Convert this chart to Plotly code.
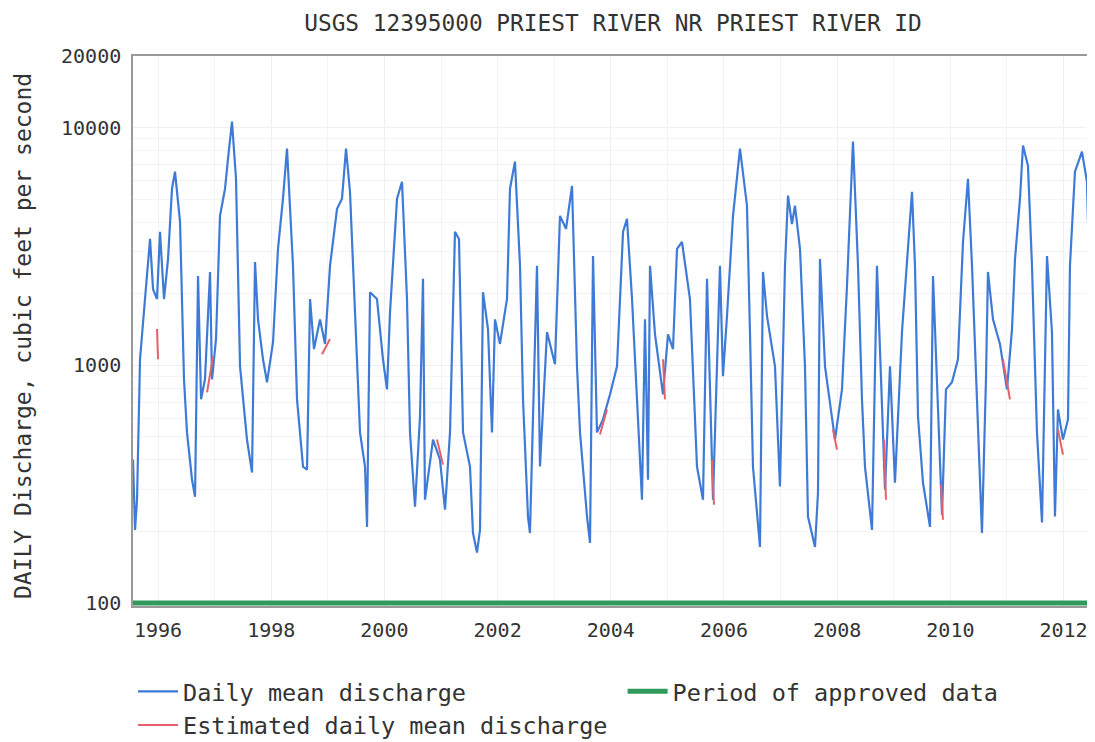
import plotly.graph_objects as go

# decimal year of each read point
t = [1995.558, 1995.594, 1995.629, 1995.682, 1995.770, 1995.859, 1995.912, 1995.982, 1996.035, 1996.106,
     1996.177, 1996.247, 1996.300, 1996.389, 1996.459, 1996.512, 1996.601, 1996.654, 1996.707, 1996.760,
     1996.830, 1996.919, 1996.954, 1997.025, 1997.095, 1997.184, 1997.237, 1997.307, 1997.378, 1997.449,
     1997.572, 1997.661, 1997.714, 1997.767, 1997.855, 1997.926, 1998.032, 1998.120, 1998.208, 1998.279,
     1998.385, 1998.456, 1998.562, 1998.633, 1998.686, 1998.756, 1998.862, 1998.951, 1999.039, 1999.163,
     1999.251, 1999.322, 1999.392, 1999.516, 1999.569, 1999.657, 1999.693, 1999.746, 1999.869, 1999.975,
     2000.046, 2000.099, 2000.223, 2000.311, 2000.399, 2000.452, 2000.541, 2000.629, 2000.682, 2000.717,
     2000.859, 2000.982, 2001.071, 2001.159, 2001.247, 2001.318, 2001.389, 2001.512, 2001.565, 2001.636,
     2001.689, 2001.742, 2001.830, 2001.901, 2001.954, 2002.042, 2002.166, 2002.219, 2002.307, 2002.396,
     2002.449, 2002.537, 2002.572, 2002.696, 2002.749, 2002.873, 2003.014, 2003.102, 2003.209, 2003.315,
     2003.403, 2003.456, 2003.580, 2003.633, 2003.686, 2003.756, 2003.862, 2003.986, 2004.110, 2004.216,
     2004.286, 2004.375, 2004.463, 2004.551, 2004.604, 2004.657, 2004.693, 2004.781, 2004.922, 2005.011,
     2005.099, 2005.170, 2005.258, 2005.399, 2005.523, 2005.629, 2005.700, 2005.806, 2005.929, 2005.982,
     2006.053, 2006.159, 2006.283, 2006.406, 2006.459, 2006.512, 2006.636, 2006.689, 2006.760, 2006.901,
     2006.989, 2007.078, 2007.131, 2007.201, 2007.254, 2007.343, 2007.431, 2007.484, 2007.608, 2007.661,
     2007.696, 2007.785, 2007.961, 2008.085, 2008.173, 2008.279, 2008.368, 2008.438, 2008.491, 2008.615,
     2008.703, 2008.792, 2008.845, 2008.933, 2009.021, 2009.145, 2009.233, 2009.322, 2009.375, 2009.428,
     2009.516, 2009.640, 2009.693, 2009.781, 2009.852, 2009.922, 2010.028, 2010.134, 2010.223, 2010.311,
     2010.382, 2010.470, 2010.558, 2010.629, 2010.664, 2010.753, 2010.876, 2011.000, 2011.089, 2011.142,
     2011.230, 2011.283, 2011.371, 2011.442, 2011.530, 2011.619, 2011.707, 2011.795, 2011.848, 2011.901,
     2011.989, 2012.078, 2012.113, 2012.201, 2012.325, 2012.413, 2012.466, 2012.520]

# daily mean discharge, cubic feet per second
q = [401, 203, 272, 1060, 1900, 3400, 2090, 1900, 3640, 1900,
     2800, 5530, 6520, 4010, 873, 522, 330, 280, 2375, 719,
     873, 2470, 873, 1290, 4250, 5530, 7400, 10600, 6090, 990,
     487, 354, 2720, 1560, 1060, 848, 1250, 3090, 5020, 8150,
     2620, 719, 375, 364, 1900, 1170, 1560, 1230, 2620, 4550,
     5020, 8150, 5370, 990, 522, 375, 209, 2030, 1900, 1060,
     792, 1670, 5020, 5920, 1900, 522, 254, 609, 2310, 272,
     487, 401, 247, 522, 3640, 3400, 522, 375, 197, 163,
     203, 2030, 1420, 522, 1560, 1230, 1900, 5530, 7190, 2620,
     719, 231, 197, 2620, 375, 1380, 1010, 4250, 3750, 5690,
     990, 522, 231, 179, 2880, 522, 592, 754, 990, 3640,
     4130, 1900, 719, 272, 1560, 330, 2620, 1350, 754, 1350,
     1170, 3090, 3300, 1900, 375, 272, 2310, 272, 2620, 899,
     1610, 4250, 8150, 4690, 1380, 375, 172, 2470, 1610, 990,
     309, 2620, 5170, 3930, 4690, 3090, 990, 231, 172, 291,
     2800, 990, 487, 792, 2150, 8730, 2620, 719, 375, 203,
     2620, 652, 300, 990, 321, 1380, 2800, 5370, 2620, 609,
     321, 209, 2375, 719, 235, 792, 848, 1060, 3300, 6090,
     2620, 719, 197, 873, 2470, 1560, 1230, 792, 1420, 2800,
     5020, 8400, 6910, 2620, 522, 218, 2880, 1380, 231, 652,
     487, 592, 2620, 6520, 7920, 5920, 1900, 442]

# estimated periods (start, end) with discharge at start and end
est_t0 = [1995.982, 1996.866, 1998.898, 2000.929, 2003.809, 2004.922, 2005.788, 2007.926, 2008.827, 2009.834, 2010.929, 2011.901]
est_t1 = [1996.000, 1996.972, 1999.039, 2001.035, 2003.933, 2004.957, 2005.823, 2007.996, 2008.862, 2009.869, 2011.053, 2011.989]
est_q0 = [1420, 769, 1112, 487, 511, 1060, 401, 537, 487, 315, 1060, 537]
est_q1 = [1060, 1091, 1290, 382, 652, 719, 259, 442, 272, 224, 719, 421]

approved_t = [1995.558, 2012.520]
approved_q = [100, 100]

year_ticks = [1996, 1998, 2000, 2002, 2004, 2006, 2008, 2010, 2012]
year_labels = [str(y) for y in year_ticks]
q_ticks = [100, 1000, 10000, 20000]
q_labels = ["100", "1000", "10000", "20000"]

FONT = "DejaVu Sans Mono"
TXT = "#333333"

est_x, est_y = [], []
for a, b, c, d in zip(est_t0, est_t1, est_q0, est_q1):
    est_x += [a, b, None]
    est_y += [c, d, None]

fig = go.Figure()
fig.add_trace(go.Scatter(x=t, y=q, mode="lines", name="Daily mean discharge",
                         line=dict(color="#3f7bd6", width=2.2), legend="legend"))
fig.add_trace(go.Scatter(x=est_x, y=est_y, mode="lines", name="Estimated daily mean discharge",
                         line=dict(color="#e8606a", width=2), legend="legend"))
fig.add_trace(go.Scatter(x=approved_t, y=approved_q, mode="lines", name="Period of approved data",
                         line=dict(color="#2f9a5c", width=5), legend="legend2"))

# page body has an 8px default margin, so the figure is sized to fill the window
fig.update_layout(
    width=1087, height=734,
    margin=dict(l=125, r=2, t=48, b=136, autoexpand=False),
    paper_bgcolor="white", plot_bgcolor="white",
    font=dict(family=FONT, color=TXT),
    title=dict(text="USGS 12395000 PRIEST RIVER NR PRIEST RIVER ID",
               x=0.5, xref="paper", xanchor="center", y=0.980, yanchor="middle",
               font=dict(family=FONT, size=22.8, color=TXT)),
    xaxis=dict(range=[1995.558, 2012.52], tickvals=year_ticks, ticktext=year_labels,
               automargin=False,
               showgrid=True, gridcolor="#f0f0f0", zeroline=False,
               showline=True, linecolor="#999999", linewidth=1.5, mirror=True,
               ticks="", ticklabelstandoff=5, tickfont=dict(family=FONT, size=20, color=TXT),
               minor=dict(dtick=1, showgrid=True, gridcolor="#f4f4f4")),
    yaxis=dict(type="log", range=[1.9874, 4.30103], tickvals=q_ticks, ticktext=q_labels,
               automargin=False,
               showgrid=True, gridcolor="#f0f0f0", zeroline=False,
               showline=True, linecolor="#999999", linewidth=1.5, mirror=True,
               ticks="", ticklabelstandoff=6, tickfont=dict(family=FONT, size=20, color=TXT),
               minor=dict(dtick="D1", showgrid=True, gridcolor="#f4f4f4")),
    annotations=[dict(text="DAILY Discharge, cubic feet per second", textangle=-90,
                      xref="paper", yref="paper", x=-0.1145, y=0.491,
                      xanchor="center", yanchor="middle", showarrow=False,
                      font=dict(family=FONT, size=23, color=TXT))],
    legend=dict(x=0.0, xanchor="left", y=-0.1156, yanchor="top", orientation="v",
                font=dict(family=FONT, size=23.5, color=TXT), itemwidth=40,
                bgcolor="rgba(0,0,0,0)", tracegroupgap=0),
    legend2=dict(x=0.510, xanchor="left", y=-0.1156, yanchor="top", orientation="v",
                 font=dict(family=FONT, size=23.5, color=TXT), itemwidth=40,
                 bgcolor="rgba(0,0,0,0)"),
)

fig.write_html("out.html")
